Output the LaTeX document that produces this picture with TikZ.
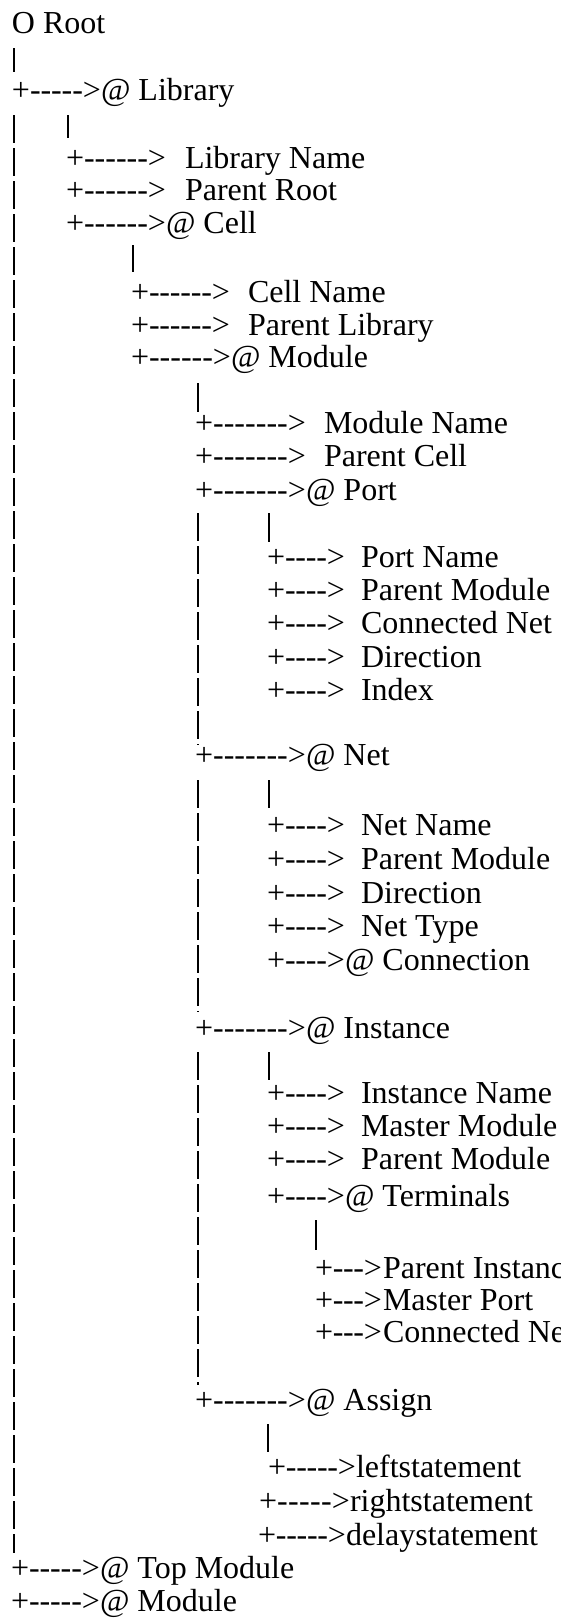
\documentclass[tikz,border=0pt]{standalone}
\usepackage{fontspec}
\newfontfamily\treefont{Liberation Serif}
% "+---->" lead: plus sign, #2 evenly spread hyphens, arrow head, set to width #1
\newcommand\lnk[2]{\hbox to #1pt{+\xleaders\hbox to \dimexpr(#1pt-37pt)/#2\relax{\hss-\hss}\hfil>}}
% one tree line: name, x of '+', baseline y, lead width, hyphen count, x of label, label
\newcommand\trow[7]{%
  \node[lab] (#1-lead) at (#2,#3) {\lnk{#4}{#5}};
  \node[lab] (#1) at (#6,#3) {#7};}
% vertical guide between two named coordinates
\newcommand\vbar[5]{%
  \coordinate (#1-top) at (#2,#3);
  \coordinate (#1-bot) at (#2,#4);
  \draw[#5] (#1-top) -- (#1-bot);}
\begin{document}
\begin{tikzpicture}[x=1pt,y=-1pt,
  lab/.style={anchor=base west,inner sep=0pt,outer sep=0pt,
    font=\treefont\fontsize{32}{38}\selectfont},
  bar/.style={line width=2.5pt,black},
  longbar/.style={bar,dash pattern=on 28pt off 5pt}]
\useasboundingbox (0,0) rectangle (561,1623);
\clip (0,0) rectangle (561,1623);

% root
\node[lab] (root) at (12,33) {O Root};
\vbar{v0}{14}{48}{72}{bar}

% library level
\trow{lib}{12}{100}{89}{5}{101}{@ Library}
\vbar{v1}{14}{115}{1553}{longbar}
\vbar{v2}{68}{115}{138}{bar}
\trow{libname}{66}{168}{100}{6}{185}{Library Name}
\trow{libparent}{66}{200}{100}{6}{185}{Parent Root}
\trow{cell}{66}{233}{100}{6}{166}{@ Cell}

% cell level
\vbar{v3}{133}{245}{272}{bar}
\trow{cellname}{131}{302}{99}{6}{248}{Cell Name}
\trow{cellparent}{131}{335}{99}{6}{248}{Parent Library}
\trow{mod}{131}{367}{100}{6}{231}{@ Module}

% module level
\vbar{v4}{198}{383}{412}{bar}
\trow{modname}{195}{433}{111}{7}{324}{Module Name}
\trow{modparent}{195}{466}{111}{7}{324}{Parent Cell}
\trow{port}{195}{500}{111}{7}{306}{@ Port}

% port
\vbar{v5}{198}{513}{745}{longbar}
\vbar{v6}{269}{513}{542}{bar}
\trow{pname}{267}{567}{78}{4}{361}{Port Name}
\trow{pparent}{267}{600}{78}{4}{361}{Parent Module}
\trow{pnet}{267}{633}{78}{4}{361}{Connected Net}
\trow{pdir}{267}{667}{78}{4}{361}{Direction}
\trow{pidx}{267}{700}{78}{4}{361}{Index}

% net
\trow{net}{195}{765}{111}{7}{306}{@ Net}
\vbar{v7}{198}{780}{1012}{longbar}
\vbar{v8}{269}{780}{808}{bar}
\trow{nname}{267}{835}{78}{4}{361}{Net Name}
\trow{nparent}{267}{869}{78}{4}{361}{Parent Module}
\trow{ndir}{267}{903}{78}{4}{361}{Direction}
\trow{ntype}{267}{936}{78}{4}{361}{Net Type}
\trow{nconn}{267}{970}{78}{4}{345}{@ Connection}

% instance
\trow{inst}{195}{1038}{111}{7}{306}{@ Instance}
\vbar{v9}{198}{1052}{1385}{longbar}
\vbar{v10}{269}{1052}{1080}{bar}
\trow{iname}{267}{1103}{78}{4}{361}{Instance Name}
\trow{imaster}{267}{1136}{78}{4}{361}{Master Module}
\trow{iparent}{267}{1169}{78}{4}{361}{Parent Module}
\trow{term}{267}{1206}{78}{4}{345}{@ Terminals}

% terminals
\vbar{v11}{316}{1220}{1250}{bar}
\trow{tinst}{315}{1278}{67}{3}{383}{Parent Instance}
\trow{tport}{315}{1310}{67}{3}{383}{Master Port}
\trow{tnet}{315}{1342}{67}{3}{383}{Connected Net}

% assign
\trow{asg}{195}{1410}{111}{7}{306}{@ Assign}
\vbar{v12}{268}{1424}{1452}{bar}
\trow{aleft}{268}{1477}{88}{5}{356}{leftstatement}
\trow{aright}{259}{1511}{91}{5}{350}{rightstatement}
\trow{adelay}{258}{1545}{88}{5}{346}{delaystatement}

% root level, continued
\trow{top}{11}{1578}{89}{5}{100}{@ Top Module}
\trow{module}{11}{1611}{89}{5}{100}{@ Module}
\end{tikzpicture}
\end{document}
